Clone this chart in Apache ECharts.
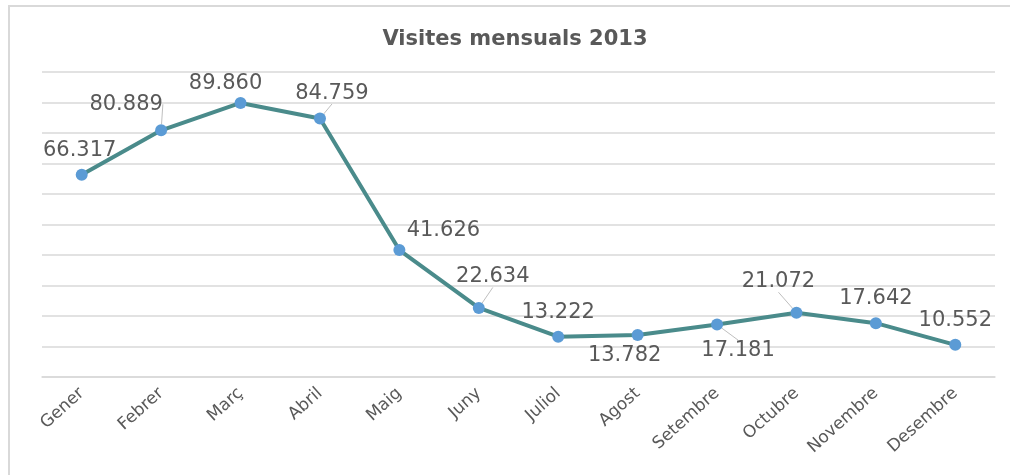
<!DOCTYPE html>
<html>
<head>
<meta charset="utf-8">
<title>Visites mensuals 2013</title>
<script src="https://cdn.jsdelivr.net/npm/echarts@6/dist/echarts.min.js"></script>
<style>
  html, body { margin: 0; padding: 0; background: #fff; }
  #chart { width: 1010px; height: 475px; }
</style>
</head>
<body>
<div id="chart"></div>
<script>
// dades
const months = ['Gener', 'Febrer', 'Març', 'Abril', 'Maig', 'Juny', 'Juliol',
  'Agost', 'Setembre', 'Octubre', 'Novembre', 'Desembre']
const visits = [66317, 80889, 89860, 84759, 41626, 22634, 13222, 13782, 17181, 21072, 17642, 10552]

// on va cada etiqueta respecte al punt (dx, dy) i si porta línia guia
const labelShift = [[-2, -24], [-35, -26], [-15, -19], [12, -25], [44, -19], [14, -31],
  [0, -24], [-13, 21], [21, 26], [-18, -31], [0, -25], [0, -24]]
const withGuide = [1, 3, 5, 8, 9]

function fmt(v) {
  return String(v).replace(/\B(?=(\d{3})+(?!\d))/g, '.')
}

const chart = echarts.init(document.getElementById('chart'), null, { renderer: 'canvas' })

chart.setOption({
  backgroundColor: '#fff',
  animation: false,
  textStyle: { fontFamily: 'DejaVu Sans' },
  title: {
    text: 'Visites mensuals 2013',
    left: 510,
    top: 24,
    textAlign: 'center',
    textStyle: { color: '#595959', fontSize: 21, fontWeight: 'bold', fontFamily: 'DejaVu Sans' }
  },
  graphic: [{
    type: 'rect',
    shape: { x: 9, y: 6, width: 1020, height: 490 },
    style: { fill: 'none', stroke: '#d9d9d9', lineWidth: 2 },
    silent: true
  }],
  grid: { left: 42, right: 15, top: 72, bottom: 98 },
  xAxis: {
    type: 'category',
    data: months,
    boundaryGap: true,
    axisLine: { lineStyle: { color: '#d9d9d9', width: 1.5 } },
    axisTick: { show: false },
    axisLabel: {
      rotate: 42,
      margin: 14,
      color: '#595959',
      fontSize: 17,
      interval: 0
    }
  },
  yAxis: {
    type: 'value',
    min: 0,
    max: 100000,
    interval: 10000,
    axisLabel: { show: false },
    axisLine: { show: false },
    axisTick: { show: false },
    splitLine: { lineStyle: { color: '#d9d9d9', width: 1.5 } }
  },
  series: [{
    type: 'line',
    data: visits.map((v, i) => ({
      value: v,
      labelLine: { show: withGuide.indexOf(i) >= 0 }
    })),
    symbol: 'circle',
    symbolSize: 12,
    lineStyle: { color: '#4a8b8b', width: 4 },
    itemStyle: { color: '#5b9bd5' },
    label: {
      show: true,
      position: 'inside',
      color: '#595959',
      fontSize: 21,
      formatter: p => fmt(p.value)
    },
    labelLine: {
      show: false,
      lineStyle: { color: '#bfbfbf', width: 1 }
    },
    labelLayout: p => ({ dx: labelShift[p.dataIndex][0], dy: labelShift[p.dataIndex][1] })
  }]
})
</script>
</body>
</html>
